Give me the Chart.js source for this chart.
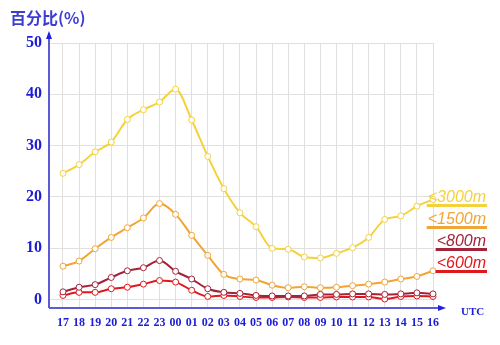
<!DOCTYPE html>
<html>
<head>
<meta charset="utf-8">
<script src="https://cdn.jsdelivr.net/npm/chart.js@4"></script>
<style>
  html, body { margin: 0; padding: 0; background: #fff; }
  #wrap { width: 500px; height: 345px; }
</style>
</head>
<body>
<div id="wrap"><canvas id="myChartHumedad" width="500" height="345"></canvas></div>
<script>
// horas UTC
const horas = ['17','18','19','20','21','22','23','00','01','02','03','04','05','06','07','08','09','10','11','12','13','14','15','16']

// porcentaje por capa
const capa3000 = [24.6, 26.3, 28.8, 30.7, 35.1, 37.0, 38.5, 41.0, 35.0, 27.9, 21.6, 16.9, 14.2, 10.0, 9.8, 8.3, 8.1, 9.0, 10.1, 12.1, 15.6, 16.3, 18.2, 19.5]
const capa1500 = [6.5, 7.5, 9.9, 12.1, 14.0, 15.9, 18.7, 16.6, 12.5, 8.6, 4.9, 4.0, 3.8, 2.8, 2.3, 2.5, 2.3, 2.4, 2.7, 3.0, 3.4, 4.0, 4.5, 5.6]
const capa800 = [1.5, 2.4, 2.9, 4.3, 5.6, 6.2, 7.6, 5.5, 4.0, 2.1, 1.4, 1.2, 0.8, 0.7, 0.7, 0.7, 1.0, 1.0, 1.1, 1.1, 1.0, 1.1, 1.3, 1.1]
const capa600 = [0.8, 1.4, 1.4, 2.1, 2.4, 3.0, 3.7, 3.4, 1.8, 0.6, 0.8, 0.6, 0.4, 0.4, 0.5, 0.4, 0.4, 0.5, 0.5, 0.5, 0.1, 0.6, 0.7, 0.6]

const yTicks = [0, 10, 20, 30, 40, 50]
const nombres = ['<3000m', '<1500m', '<800m', '<600m']
const colores = ['#f4d23c', '#f0a536', '#a3233a', '#e0181c']

const AZUL = '#1c1cd6'
const EJE = '#5b5bd6'

const serie = (data, i) => ({
    label: nombres[i],
    data: data.map((v, k) => ({ x: k, y: v })),
    borderColor: colores[i],
    backgroundColor: '#ffffff',
    borderWidth: 2,
    pointRadius: 3,
    pointBorderWidth: 1,
    pointBackgroundColor: '#ffffff',
    pointBorderColor: colores[i],
    cubicInterpolationMode: 'monotone',
    clip: false
})

// ejes con flecha, titulo y etiquetas de las capas
const adornos = {
    id: 'adornos',
    afterDraw(chart) {
        const c = chart.ctx
        const a = chart.chartArea
        const y0 = a.bottom, x0 = a.left
        c.save()
        c.strokeStyle = EJE
        c.fillStyle = EJE
        c.lineWidth = 2
        c.beginPath()
        c.moveTo(x0, y0); c.lineTo(x0, a.top - 8)
        c.moveTo(x0, y0); c.lineTo(a.right + 8, y0)
        c.stroke()
        c.fillStyle = '#2020e0'
        c.beginPath()
        c.moveTo(x0, a.top - 12); c.lineTo(x0 - 3, a.top - 4); c.lineTo(x0 + 3, a.top - 4)
        c.closePath(); c.fill()
        c.beginPath()
        c.moveTo(a.right + 13, y0); c.lineTo(a.right + 5, y0 - 3); c.lineTo(a.right + 5, y0 + 3)
        c.closePath(); c.fill()

        c.fillStyle = '#3d3dd4'
        c.font = 'bold 16px "Noto Sans CJK SC"'
        c.textBaseline = 'middle'
        c.textAlign = 'left'
        c.fillText('百分比(%)', 10, 18)

        c.fillStyle = AZUL
        c.font = 'bold 11px "Liberation Serif"'
        c.fillText('UTC', 461, 312)

        c.font = 'italic 16px "Liberation Sans"'
        c.textAlign = 'right'
        c.textBaseline = 'alphabetic'
        const yy = [202, 224, 246, 268]
        nombres.forEach((n, i) => {
            c.fillStyle = colores[i]
            c.fillText(n, 486, yy[i])
            const w = c.measureText(n).width
            c.fillRect(486 - w - 1, yy[i] + 2, w + 2, 3)
        })
        c.restore()
    }
}

var ctx = document.getElementById('myChartHumedad')
var myChart = new Chart(ctx, {
    type: 'line',
    data: {
        datasets: [serie(capa3000, 0), serie(capa1500, 1), serie(capa800, 2), serie(capa600, 3)]
    },
    options: {
        responsive: false,
        animation: false,
        layout: { padding: { top: 43, right: 67, left: 0, bottom: 0 } },
        plugins: { legend: { display: false }, tooltip: { enabled: false } },
        scales: {
            x: {
                type: 'linear',
                min: -0.87,
                max: 23,
                afterBuildTicks: s => { s.ticks = horas.map((h, k) => ({ value: k })) },
                afterFit: s => { s.height = 37 },
                grid: { color: '#e0e0e0', drawTicks: false },
                border: { display: false },
                ticks: {
                    autoSkip: false,
                    maxRotation: 0,
                    padding: 8,
                    color: AZUL,
                    font: { family: 'Liberation Serif', weight: 'bold', size: 12 },
                    callback: v => horas[v]
                }
            },
            y: {
                min: -1.65,
                max: 50,
                afterBuildTicks: s => { s.ticks = yTicks.map(v => ({ value: v })) },
                afterFit: s => { s.width = 49 },
                grid: { color: '#e0e0e0', drawTicks: false },
                border: { display: false },
                ticks: {
                    padding: 7,
                    color: AZUL,
                    font: { family: 'Liberation Serif', weight: 'bold', size: 16 }
                }
            }
        }
    },
    plugins: [adornos]
})
</script>
</body>
</html>
